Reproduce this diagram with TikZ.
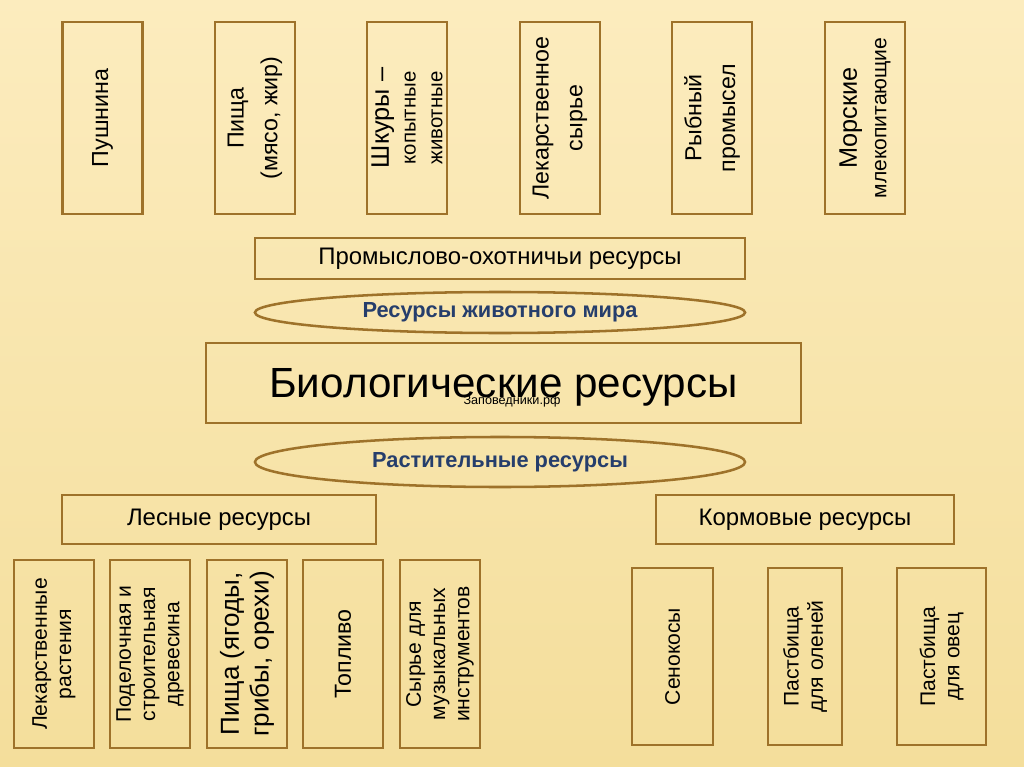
\documentclass[tikz,border=0pt]{standalone}
\usepackage{fontspec}
\setmainfont{Liberation Sans}
\usetikzlibrary{shapes.geometric}
\definecolor{paper}{RGB}{252,236,190}
\definecolor{paperlow}{RGB}{244,222,155}
\definecolor{frame}{RGB}{158,114,42}
\definecolor{navy}{RGB}{38,62,108}
\newcommand{\fs}[1]{\fontsize{#1}{1.15\dimexpr#1pt\relax}\selectfont}

\begin{document}
\begin{tikzpicture}[
    x=0.025cm, y=-0.025cm,
    item/.style={
        draw=frame, line width=1.8pt, rotate=90,
        align=center, inner sep=2pt,
        minimum width=4.8cm, minimum height=2cm,
        font=\fs{16.5}
    },
    lowitem/.style={item, minimum width=4.7cm, font=\fs{15}},
    feeditem/.style={item, minimum width=4.425cm, font=\fs{15}},
    group/.style={
        draw=frame, line width=1.8pt, align=center,
        minimum height=1.225cm, font=\fs{17}
    },
    realm/.style={
        ellipse, draw=frame, line width=1.8pt,
        minimum width=12.25cm, text=navy, font=\fs{15.5}\bfseries
    }
]

% ---- Page: whole slide, light parchment ----
\useasboundingbox (0,0) rectangle (1024,767);
\shade[top color=paper, bottom color=paperlow] (0,0) rectangle (1024,767);

% ---- Animal resources: the top row ----
\node[item] (fur)    at (102.5,118) {Пушнина};
\node[item] (meat)   at (255,118)   {Пища\\[5pt](мясо, жир)};
\node[item] (hides)  at (407,118)   {{\fs{18}Шкуры –}\\{\fs{14.5}копытные}\\{\fs{14.5}животные}};
\node[item] (drugs)  at (560,118)   {Лекарственное\\[5pt]сырье};
\node[item] (fish)   at (712,118)   {Рыбный\\[5pt]промысел};
\node[item] (marine) at (865,118)   {{\fs{18}Морские}\\[2pt]{\fs{15}млекопитающие}};

% ---- The middle band ----
\node[group, minimum width=12.25cm, minimum height=1.025cm] (hunt) at (500,258.5)
     {Промыслово-охотничьи ресурсы};
\node[realm, minimum height=1.025cm] (fauna) at (500,312.5) {Ресурсы животного мира};
\node[group, minimum width=14.875cm, minimum height=2cm, text depth=0pt, font=\fs{30}]
     (bio) at (503.5,383) {Биологические ресурсы};
\node[font=\fs{9}] (mark) at (512,401) {Заповедники.рф};
\node[realm, minimum height=1.25cm] (flora) at (500,462) {Растительные ресурсы};

% ---- Plant resources: two groups ----
\node[group, minimum width=7.85cm] (forest) at (219,519.5) {Лесные ресурсы};
\node[group, minimum width=7.45cm] (fodder) at (805,519.5) {Кормовые ресурсы};

% ---- Forest items ----
\node[lowitem] (herbs)  at (54,654)  {Лекарственные\\растения};
\node[lowitem] (timber) at (150,654) {Поделочная и\\строительная\\древесина};
\node[lowitem, font=\fs{18.5}] (food) at (247,654) {Пища (ягоды,\\грибы, орехи)};
\node[lowitem, font=\fs{16.5}] (fuel) at (343,654) {Топливо};
\node[lowitem] (music)  at (440,654) {Сырье для\\музыкальных\\инструментов};

% ---- Fodder items ----
\node[feeditem, minimum height=2.025cm] (hay)   at (672.5,656.5) {Сенокосы};
\node[feeditem, minimum height=1.85cm]  (deer)  at (805,656.5)   {Пастбища\\для оленей};
\node[feeditem, minimum height=2.225cm] (sheep) at (941.5,656.5) {Пастбища\\для овец};

\end{tikzpicture}
\end{document}
